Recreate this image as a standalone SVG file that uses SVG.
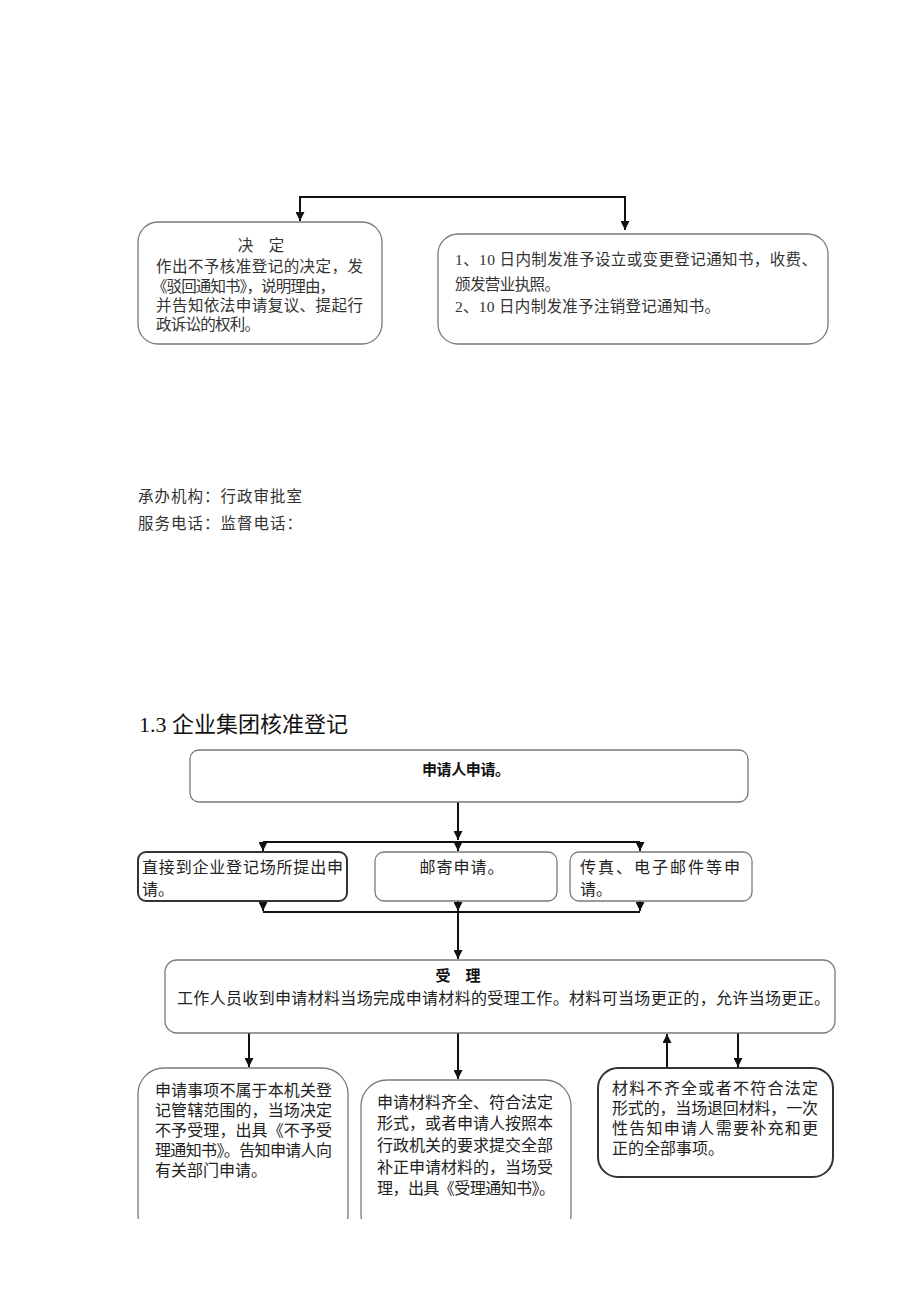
<svg xmlns="http://www.w3.org/2000/svg" width="920" height="1301" viewBox="0 0 920 1301">
<style>
.bg{fill:#fff}
.box{fill:#fff;stroke:#7a7a7a;stroke-width:1.3}
.boxd{fill:#fff;stroke:#333;stroke-width:2}
.t{font-family:"Liberation Serif","Noto Sans CJK SC",serif;font-size:15.5px;fill:#333}
.t2{font-family:"Liberation Serif","Noto Sans CJK SC",serif;font-size:16px;fill:#222}
.b{font-family:"Liberation Sans","Noto Sans CJK SC",sans-serif;font-size:15px;font-weight:bold;fill:#111}
.h{font-family:"Liberation Serif","Noto Sans CJK SC",serif;font-size:22px;fill:#111}
.f{font-family:"Liberation Sans","Noto Sans CJK SC",sans-serif;font-size:15.5px;fill:#333;letter-spacing:1px}
.c{fill:none;stroke:#111;stroke-width:2}
</style>
<defs>
<marker id="ar" viewBox="0 0 10 10" refX="10" refY="5" markerWidth="9" markerHeight="9" markerUnits="userSpaceOnUse" orient="auto">
<path d="M0,0 L10,5 L0,10 z" fill="#111"/>
</marker>
<clipPath id="cut"><rect x="0" y="0" width="920" height="1219"/></clipPath>
</defs>
<rect class="bg" x="0" y="0" width="920" height="1301"/>

<g id="connectors">
<path class="c" d="M462,197 H300 V221" marker-end="url(#ar)"/>
<path class="c" d="M462,197 H625 V230" marker-end="url(#ar)"/>
<path class="c" d="M458,802 V840" marker-end="url(#ar)"/>
<path class="c" d="M263,842 H640"/>
<path class="c" d="M263,842 V851" marker-end="url(#ar)"/>
<path class="c" d="M458,842 V851" marker-end="url(#ar)"/>
<path class="c" d="M640,842 V851" marker-end="url(#ar)"/>
<path class="c" d="M263,901 V911" marker-end="url(#ar)"/>
<path class="c" d="M458,901 V911" marker-end="url(#ar)"/>
<path class="c" d="M640,901 V911" marker-end="url(#ar)"/>
<path class="c" d="M263,912 H640"/>
<path class="c" d="M458,912 V959" marker-end="url(#ar)"/>
<path class="c" d="M249,1033 V1067" marker-end="url(#ar)"/>
<path class="c" d="M458,1033 V1079" marker-end="url(#ar)"/>
<path class="c" d="M667,1068 V1034" marker-end="url(#ar)"/>
<path class="c" d="M738,1033 V1067" marker-end="url(#ar)"/>
</g>

<g id="decide">
<rect class="box" x="138" y="222" width="244" height="122" rx="20"/>
<text class="t" x="261" y="251" text-anchor="middle">决　定</text>
<text class="t" x="156" y="272" textLength="207" lengthAdjust="spacing">作出不予核准登记的决定，发</text>
<text class="t" x="152" y="292" textLength="183" lengthAdjust="spacing">《驳回通知书》，说明理由，</text>
<text class="t" x="156" y="311" textLength="207" lengthAdjust="spacing">并告知依法申请复议、提起行</text>
<text class="t" x="156" y="330" textLength="104" lengthAdjust="spacing">政诉讼的权利。</text>
</g>

<g id="approve">
<rect class="box" x="438" y="234" width="390" height="110" rx="20"/>
<text class="t" x="455" y="265" textLength="362" lengthAdjust="spacing">1、10 日内制发准予设立或变更登记通知书，收费、</text>
<text class="t" x="455" y="290" textLength="105" lengthAdjust="spacing">颁发营业执照。</text>
<text class="t" x="455" y="312" textLength="265" lengthAdjust="spacing">2、10 日内制发准予注销登记通知书。</text>
</g>

<g id="footer">
<text class="f" x="138" y="502">承办机构：行政审批室</text>
<text class="f" x="138" y="529">服务电话：监督电话：</text>
</g>

<g id="title">
<text class="h" x="139" y="732">1.3 企业集团核准登记</text>
</g>

<g id="apply">
<rect class="box" x="190" y="750" width="558" height="52" rx="9"/>
<text class="b" x="422" y="775" textLength="88" lengthAdjust="spacing">申请人申请。</text>
</g>

<g id="direct">
<rect class="boxd" x="138" y="852" width="209" height="49" rx="8"/>
<text class="t2" x="142" y="873" textLength="201" lengthAdjust="spacing">直接到企业登记场所提出申</text>
<text class="t2" x="142" y="895">请。</text>
</g>

<g id="mail">
<rect class="box" x="375" y="852" width="182" height="49" rx="9"/>
<text class="t2" x="462" y="873" text-anchor="middle" letter-spacing="1">邮寄申请。</text>
</g>

<g id="fax">
<rect class="box" x="570" y="852" width="182" height="49" rx="9"/>
<text class="t2" x="580" y="873" textLength="160" lengthAdjust="spacing">传真、电子邮件等申</text>
<text class="t2" x="580" y="895">请。</text>
</g>

<g id="accept">
<rect class="box" x="165" y="960" width="670" height="73" rx="12"/>
<text class="b" x="458" y="981" text-anchor="middle">受　理</text>
<text class="t2" x="177" y="1004" textLength="653" lengthAdjust="spacing">工作人员收到申请材料当场完成申请材料的受理工作。材料可当场更正的，允许当场更正。</text>
</g>

<g id="reject" clip-path="url(#cut)">
<rect class="box" x="138" y="1068" width="210" height="172" rx="26"/>
<text class="t2" x="155" y="1096" textLength="177" lengthAdjust="spacing">申请事项不属于本机关登</text>
<text class="t2" x="155" y="1116" textLength="177" lengthAdjust="spacing">记管辖范围的，当场决定</text>
<text class="t2" x="155" y="1136" textLength="177" lengthAdjust="spacing">不予受理，出具《不予受</text>
<text class="t2" x="155" y="1156" textLength="177" lengthAdjust="spacing">理通知书》。告知申请人向</text>
<text class="t2" x="155" y="1176">有关部门申请。</text>
</g>

<g id="accepted" clip-path="url(#cut)">
<rect class="box" x="361" y="1080" width="210" height="160" rx="26"/>
<text class="t2" x="377" y="1108" textLength="176" lengthAdjust="spacing">申请材料齐全、符合法定</text>
<text class="t2" x="377" y="1129" textLength="176" lengthAdjust="spacing">形式，或者申请人按照本</text>
<text class="t2" x="377" y="1151" textLength="176" lengthAdjust="spacing">行政机关的要求提交全部</text>
<text class="t2" x="377" y="1173" textLength="176" lengthAdjust="spacing">补正申请材料的，当场受</text>
<text class="t2" x="377" y="1194" textLength="178" lengthAdjust="spacing">理，出具《受理通知书》。</text>
</g>

<g id="incomplete">
<rect class="boxd" x="598" y="1068" width="235" height="109" rx="20"/>
<text class="t2" x="612" y="1094" textLength="206" lengthAdjust="spacing">材料不齐全或者不符合法定</text>
<text class="t2" x="612" y="1114" textLength="206" lengthAdjust="spacing">形式的，当场退回材料，一次</text>
<text class="t2" x="612" y="1134" textLength="206" lengthAdjust="spacing">性告知申请人需要补充和更</text>
<text class="t2" x="612" y="1154">正的全部事项。</text>
</g>
</svg>
